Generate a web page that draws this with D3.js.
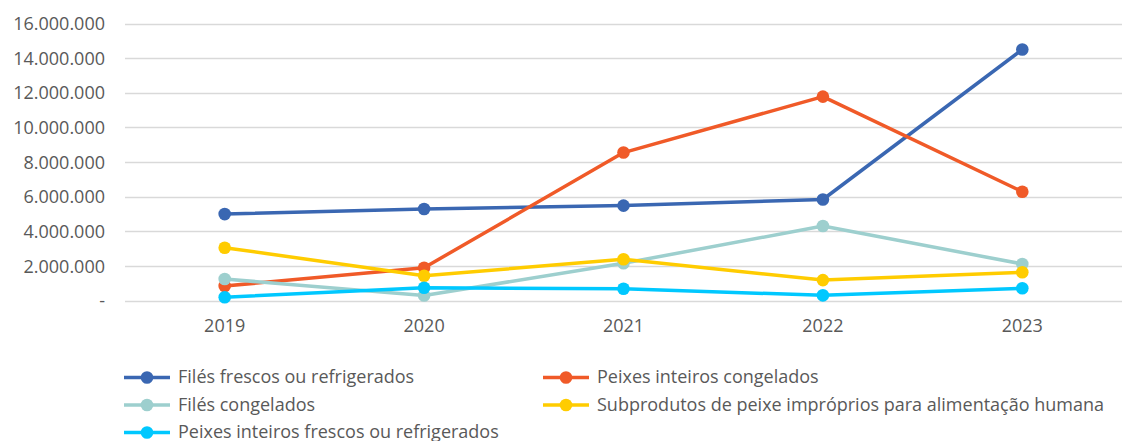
<!DOCTYPE html>
<html>
<head>
<meta charset="utf-8">
<script src="https://cdn.jsdelivr.net/npm/d3@7"></script>
<style>
  body { margin: 0; background: #fff; }
  svg { display: block; font-family: 'Open Sans', Lato, sans-serif; }
</style>
</head>
<body>
<svg id="chart" width="1124" height="441"></svg>
<script>
const years = ['2019', '2020', '2021', '2022', '2023']
const yTicks = [0, 2e6, 4e6, 6e6, 8e6, 10e6, 12e6, 14e6, 16e6]

const filesFrescos = [5.0e6, 5.29e6, 5.49e6, 5.84e6, 14.5e6]
const peixesCongelados = [0.85e6, 1.9e6, 8.55e6, 11.78e6, 6.29e6]
const filesCongelados = [1.25e6, 0.3e6, 2.16e6, 4.31e6, 2.12e6]
const subprodutos = [3.06e6, 1.44e6, 2.39e6, 1.19e6, 1.64e6]
const peixesFrescos = [0.2e6, 0.75e6, 0.69e6, 0.31e6, 0.72e6]

const seriesNames = [
  'Filés frescos ou refrigerados',
  'Peixes inteiros congelados',
  'Filés congelados',
  'Subprodutos de peixe impróprios para alimentação humana',
  'Peixes inteiros frescos ou refrigerados'
]
const seriesColors = ['#3A67B2', '#F05A28', '#9DCFCE', '#FFCC00', '#00C8FF']

const series = [filesFrescos, peixesCongelados, filesCongelados, subprodutos, peixesFrescos]
  .map((values, i) => ({ name: seriesNames[i], color: seriesColors[i], values }))

const svg = d3.select('#chart')
const plotLeft = 125, plotRight = 1122, plotTop = 23.5, plotBottom = 300.7

const x = d3.scalePoint().domain(years).range([plotLeft, plotRight]).padding(0.5)
const y = d3.scaleLinear().domain([0, 16e6]).range([plotBottom, plotTop])

const fmt = (v) => v === 0 ? '-' : d3.format(',')(v).replace(/,/g, '.')

// gridlines + y labels
const grid = svg.append('g')
grid.selectAll('line')
  .data(yTicks)
  .join('line')
  .attr('x1', plotLeft)
  .attr('x2', plotRight)
  .attr('y1', (d) => Math.round(y(d)) + 0.5)
  .attr('y2', (d) => Math.round(y(d)) + 0.5)
  .attr('stroke', '#D9D9D9')
  .attr('stroke-width', 1.3)

grid.selectAll('text')
  .data(yTicks)
  .join('text')
  .attr('x', 105)
  .attr('y', (d) => y(d) + 6.5)
  .attr('text-anchor', 'end')
  .attr('fill', '#595959')
  .style('font-size', '18px')
  .text(fmt)

// x labels
svg.append('g')
  .selectAll('text')
  .data(years)
  .join('text')
  .attr('x', (d) => x(d))
  .attr('y', 332)
  .attr('text-anchor', 'middle')
  .attr('fill', '#595959')
  .style('font-size', '18px')
  .text((d) => d)

// lines
const line = d3.line()
  .x((d, i) => x(years[i]))
  .y((d) => y(d))

const g = svg.append('g')
series.forEach((s) => {
  g.append('path')
    .datum(s.values)
    .attr('d', line)
    .attr('fill', 'none')
    .attr('stroke', s.color)
    .attr('stroke-width', 3.5)
    .attr('stroke-linejoin', 'round')
    .attr('stroke-linecap', 'round')

  g.selectAll(null)
    .data(s.values)
    .join('circle')
    .attr('cx', (d, i) => x(years[i]))
    .attr('cy', (d) => y(d))
    .attr('r', 6.3)
    .attr('fill', s.color)
})

// legend
const legendPos = [
  [124, 377.5], [543, 377.5],
  [124, 405], [543, 405],
  [124, 432.5]
]
const legend = svg.append('g')
  .selectAll('g')
  .data(series)
  .join('g')
  .attr('transform', (d, i) => `translate(${legendPos[i][0]},${legendPos[i][1]})`)

legend.append('line')
  .attr('x1', 0)
  .attr('x2', 46)
  .attr('stroke', (d) => d.color)
  .attr('stroke-width', 3.5)
legend.append('circle')
  .attr('cx', 23)
  .attr('r', 6.3)
  .attr('fill', (d) => d.color)
legend.append('text')
  .attr('x', 54)
  .attr('y', 5.5)
  .attr('fill', '#595959')
  .style('font-size', '18px')
  .text((d) => d.name)
</script>
</body>
</html>
